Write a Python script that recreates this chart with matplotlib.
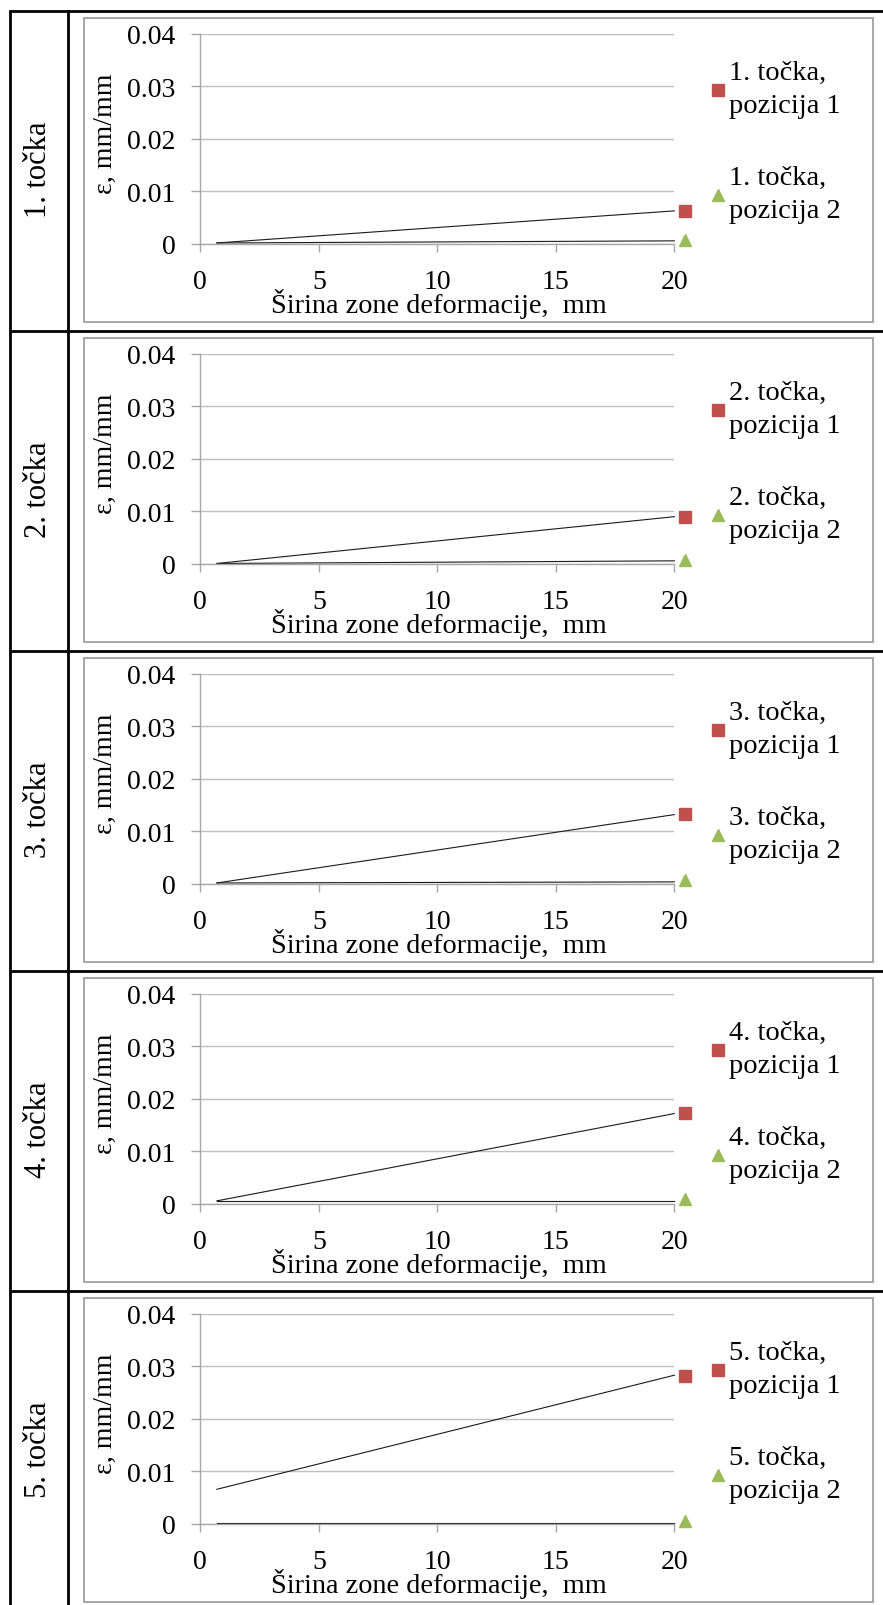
import matplotlib
matplotlib.use("Agg")
import matplotlib.pyplot as plt
from matplotlib.lines import Line2D
from matplotlib.patches import Rectangle

# data
row_labels = ["1. točka", "2. točka", "3. točka", "4. točka", "5. točka"]
point_x = [20.45, 20.45, 20.45, 20.45, 20.45]
pos1_y = [0.0063, 0.0090, 0.0133, 0.0174, 0.0282]
pos2_y = [0.0008, 0.0008, 0.0008, 0.0009, 0.0006]
trend_x = [0.7, 20.0]
trend1_start = [0.0002, 0.0001, 0.0002, 0.0006, 0.0066]
trend1_end = [0.0063, 0.0090, 0.0132, 0.0172, 0.0283]
trend2_start = [0.0002, 0.0001, 0.0002, 0.0006, 0.0002]
trend2_end = [0.0006, 0.0006, 0.0004, 0.0006, 0.0002]
x_ticks = [0, 5, 10, 15, 20]
y_ticks = [0, 0.01, 0.02, 0.03, 0.04]
y_tick_labels = ["0", "0.01", "0.02", "0.03", "0.04"]

W, H = 883, 1606
RED = "#C0504D"
GREEN = "#9BBB59"
GRID = "#BFBFBF"
AXC = "#A6A6A6"

plt.rcParams['font.family'] = ['Liberation Serif', 'DejaVu Serif']

fig = plt.figure(figsize=(W / 100, H / 100), dpi=100)


def fx(x):
    return x / W


def fy(y):
    return 1 - y / H


def hline(y, x0, x1, **kw):
    fig.add_artist(Line2D([fx(x0), fx(x1)], [fy(y), fy(y)], **kw))


def vline(x, y0, y1, **kw):
    fig.add_artist(Line2D([fx(x), fx(x)], [fy(y0), fy(y1)], **kw))


row_h = 320
top = 12
# table grid
for k in range(5):
    hline(top + k * row_h, 10, 900, color="black", lw=2.0, solid_capstyle="butt")
vline(10, top, H + 5, color="black", lw=2.0)
vline(68, top, H + 5, color="black", lw=2.0)

for k in range(5):
    dy = top + k * row_h

    # chart frame
    fig.add_artist(Rectangle((fx(84), fy(dy + 311)), fx(873) - fx(84), fy(dy + 7) - fy(dy + 311),
                             fill=False, edgecolor="#A0A0A0", lw=1.3))

    # row label in the first column
    fig.text(fx(39), fy(dy + 158), row_labels[k], rotation=90, ha="center", va="center", fontsize=22)

    ax = fig.add_axes([fx(200.3), fy(dy + 233), fx(674.3) - fx(200.3), fy(dy + 22.7) - fy(dy + 233)])
    ax.set_xlim(0, 20)
    ax.set_ylim(0, 0.04)
    ax.set_xticks(x_ticks)
    ax.set_yticks(y_ticks)
    ax.set_yticklabels(y_tick_labels)
    ax.grid(axis="y", color=GRID, lw=1.0)
    ax.set_axisbelow(True)
    for s in ["top", "right"]:
        ax.spines[s].set_visible(False)
    for s in ["left", "bottom"]:
        ax.spines[s].set_color(AXC)
        ax.spines[s].set_linewidth(1.0)
    ax.tick_params(axis="both", colors=AXC, labelcolor="black", labelsize=20, width=1.0)
    ax.tick_params(axis="y", length=6.5, pad=11.5)
    ax.tick_params(axis="x", length=5.5, pad=12.5)

    ax.plot(trend_x, [trend1_start[k], trend1_end[k]], color="#1a1a1a", lw=0.8, clip_on=False)
    ax.plot(trend_x, [trend2_start[k], trend2_end[k]], color="#1a1a1a", lw=0.8, clip_on=False)
    ax.plot([point_x[k]], [pos1_y[k]], marker="s", ms=8, color=RED, ls="none", clip_on=False)
    ax.plot([point_x[k]], [pos2_y[k]], marker="^", ms=8, color=GREEN, ls="none", clip_on=False)

    # axis titles
    fig.text(fx(439), fy(dy + 301), "Širina zone deformacije,  mm", ha="center", va="baseline", fontsize=20.3)
    fig.text(fx(105), fy(dy + 122), "ε, mm/mm", rotation=90, ha="center", va="center", fontsize=20)

    # legend
    n = k + 1
    fig.add_artist(Line2D([fx(717.7)], [fy(dy + 78.7)], marker="s", ms=8, color=RED, ls="none"))
    fig.add_artist(Line2D([fx(717.7)], [fy(dy + 183.7)], marker="^", ms=8, color=GREEN, ls="none"))
    fig.text(fx(729), fy(dy + 77.7), f"{n}. točka,\npozicija 1", ha="left", va="center",
             fontsize=20.5, linespacing=1.42)
    fig.text(fx(729), fy(dy + 183), f"{n}. točka,\npozicija 2", ha="left", va="center",
             fontsize=20.5, linespacing=1.42)

fig.savefig("out.png", dpi=100)
